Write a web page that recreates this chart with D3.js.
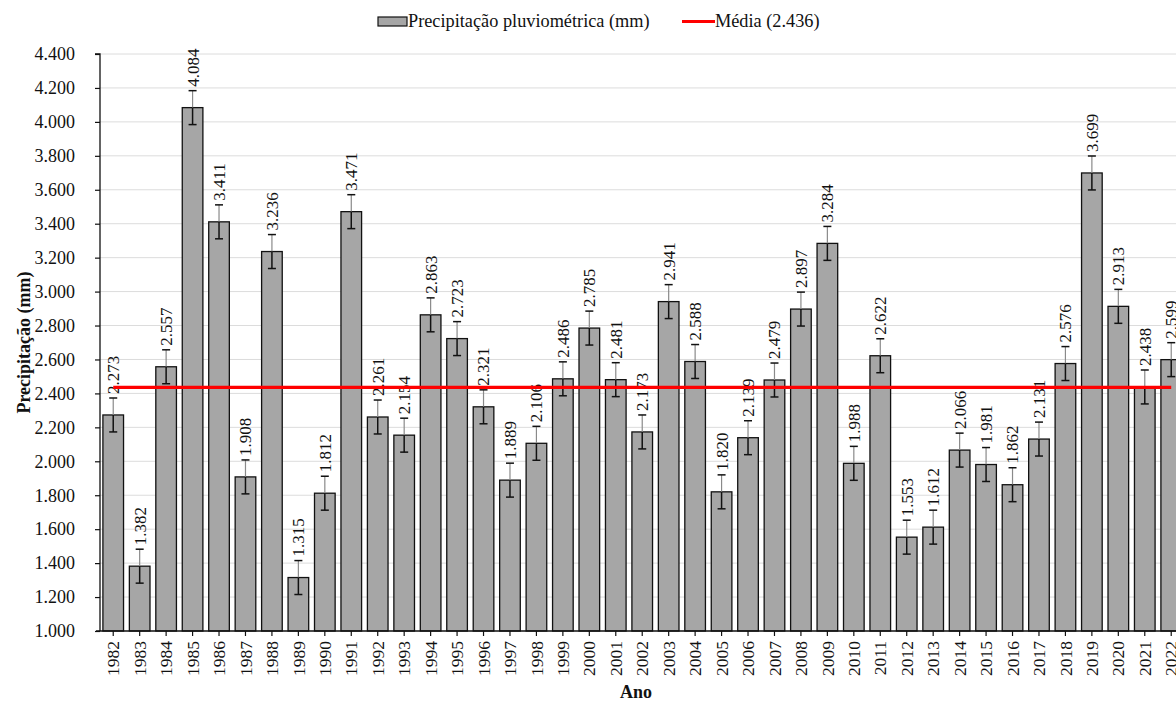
<!DOCTYPE html>
<html>
<head>
<meta charset="utf-8">
<script src="https://cdn.jsdelivr.net/npm/d3@7"></script>
<style>
  html, body { margin: 0; padding: 0; background: #fff; }
  svg { display: block; }
  svg text { font-family: "Liberation Serif", "Times New Roman", Times, "DejaVu Serif", serif !important; }
</style>
</head>
<body>
<svg id="chart" width="1176" height="702"></svg>
<script>
// Annual rainfall, 1982–2022
const years = [1982, 1983, 1984, 1985, 1986, 1987, 1988, 1989, 1990, 1991,
               1992, 1993, 1994, 1995, 1996, 1997, 1998, 1999, 2000, 2001,
               2002, 2003, 2004, 2005, 2006, 2007, 2008, 2009, 2010, 2011,
               2012, 2013, 2014, 2015, 2016, 2017, 2018, 2019, 2020, 2021, 2022];
const rainfall = [2273, 1382, 2557, 4084, 3411, 1908, 3236, 1315, 1812, 3471,
                  2261, 2154, 2863, 2723, 2321, 1889, 2106, 2486, 2785, 2481,
                  2173, 2941, 2588, 1820, 2139, 2479, 2897, 3284, 1988, 2622,
                  1553, 1612, 2066, 1981, 1862, 2131, 2576, 3699, 2913, 2438, 2599];
const errorMargin = 100;
const meanValue = 2436;
const yTicks = [1000, 1200, 1400, 1600, 1800, 2000, 2200, 2400, 2600, 2800,
                3000, 3200, 3400, 3600, 3800, 4000, 4200, 4400];

const ptBR = d3.formatLocale({ decimal: ",", thousands: ".", grouping: [3], currency: ["R$", ""] });
const fmt = ptBR.format(",d");

const svg = d3.select("#chart");
const plotLeft = 100, plotTop = 54, plotBottom = 631, step = 26.45;

const x = d3.scaleBand()
  .domain(years)
  .range([plotLeft, plotLeft + step * years.length])
  .paddingInner(0.22)
  .paddingOuter(0.11);

const y = d3.scaleLinear().domain([1000, 4400]).range([plotBottom, plotTop]);

// horizontal gridlines
svg.append("g")
  .selectAll("line")
  .data(yTicks.slice(1))
  .join("line")
  .attr("x1", plotLeft).attr("x2", 1176)
  .attr("y1", d => y(d)).attr("y2", d => y(d))
  .attr("stroke", "#dcdcdc").attr("stroke-width", 1);

// bars
svg.append("g")
  .selectAll("rect")
  .data(years)
  .join("rect")
  .attr("x", d => x(d))
  .attr("width", x.bandwidth())
  .attr("y", (d, i) => y(rainfall[i]))
  .attr("height", (d, i) => y(1000) - y(rainfall[i]))
  .attr("fill", "#a6a6a6")
  .attr("stroke", "#111")
  .attr("stroke-width", 1.3);

// error bars
const eb = svg.append("g");
years.forEach((yr, i) => {
  const cx = x(yr) + x.bandwidth() / 2;
  const v = rainfall[i];
  eb.append("line")
    .attr("x1", cx).attr("x2", cx)
    .attr("y1", y(v)).attr("y2", y(v + errorMargin))
    .attr("stroke", "#8a8a8a").attr("stroke-width", 1.2);
  eb.append("line")
    .attr("x1", cx).attr("x2", cx)
    .attr("y1", y(v)).attr("y2", y(v - errorMargin))
    .attr("stroke", "#111").attr("stroke-width", 1.5);
  [v + errorMargin, v - errorMargin].forEach(e => {
    eb.append("line")
      .attr("x1", cx - 4).attr("x2", cx + 4)
      .attr("y1", y(e)).attr("y2", y(e))
      .attr("stroke", "#111").attr("stroke-width", 1.5);
  });
});

// value labels
svg.append("g")
  .selectAll("text")
  .data(years)
  .join("text")
  .attr("transform", (d, i) => `translate(${x(d) + x.bandwidth() / 2},${y(rainfall[i]) - 21}) rotate(-90)`)
  .attr("dy", "0.35em")
  .attr("text-anchor", "start")
  .attr("font-size", 17)
  .attr("fill", "#111")
  .text((d, i) => fmt(rainfall[i]));

// y axis
const yAxis = svg.append("g")
  .attr("transform", `translate(${plotLeft},0)`)
  .call(d3.axisLeft(y).tickValues(yTicks).tickFormat(fmt).tickSize(5).tickPadding(20));
yAxis.select(".domain").attr("stroke", "#111").attr("stroke-width", 1.3).attr("d", `M-5,${plotTop}H0V${plotBottom}`);
yAxis.selectAll(".tick line").attr("stroke", "#111").attr("stroke-width", 1.2);
yAxis.selectAll(".tick text")
  .attr("font-size", 18).attr("fill", "#111");

// x axis
const xAxis = svg.append("g")
  .attr("transform", `translate(0,${plotBottom})`)
  .call(d3.axisBottom(x).tickSize(5).tickSizeOuter(0));
xAxis.select(".domain").attr("stroke", "#111").attr("stroke-width", 1.3).attr("d", `M${plotLeft - 4},0H1176`);
xAxis.selectAll(".tick line").attr("stroke", "#111").attr("stroke-width", 1.2);
xAxis.selectAll(".tick text")
  .attr("font-size", 17.5).attr("fill", "#111")
  .attr("transform", "rotate(-90)")
  .attr("text-anchor", "end")
  .attr("x", -10).attr("y", 0).attr("dy", "0.35em");

// mean line
svg.append("line")
  .attr("x1", x(years[0]) + x.bandwidth() / 2)
  .attr("x2", x(years[years.length - 1]) + x.bandwidth() / 2)
  .attr("y1", y(meanValue)).attr("y2", y(meanValue))
  .attr("stroke", "#ff0000").attr("stroke-width", 3.2);

// axis titles
svg.append("text")
  .attr("transform", `translate(24,${(plotTop + plotBottom) / 2}) rotate(-90)`)
  .attr("text-anchor", "middle").attr("dy", "0.35em")
  .attr("font-size", 18).attr("font-weight", "bold").attr("fill", "#111")
  .text("Precipitação (mm)");

svg.append("text")
  .attr("x", 636).attr("y", 698)
  .attr("text-anchor", "middle")
  .attr("font-size", 18).attr("font-weight", "bold").attr("fill", "#111")
  .text("Ano");

// legend
const lg = svg.append("g").attr("font-size", 18.3).attr("fill", "#111");
lg.append("rect")
  .attr("x", 378).attr("y", 17).attr("width", 29).attr("height", 9)
  .attr("fill", "#a6a6a6").attr("stroke", "#111").attr("stroke-width", 1.2);
lg.append("text").attr("x", 408).attr("y", 27).text("Precipitação pluviométrica (mm)");
lg.append("line")
  .attr("x1", 682).attr("x2", 715).attr("y1", 21.5).attr("y2", 21.5)
  .attr("stroke", "#ff0000").attr("stroke-width", 3.2);
lg.append("text").attr("x", 715).attr("y", 27).text(`Média (${fmt(meanValue)})`);
</script>
</body>
</html>
